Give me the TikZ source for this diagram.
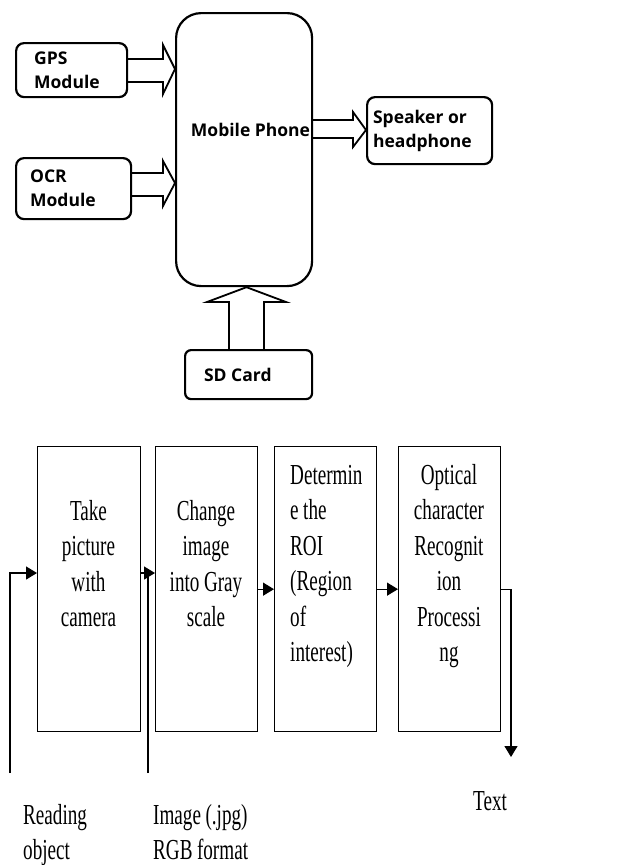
\documentclass[tikz,border=0pt]{standalone}
\usepackage{fontspec}
\newfontfamily\myosans{Open Sans}
\newfontfamily\mycserif[FakeStretch=0.66]{Liberation Serif}
\newcommand\mytopfont{\myosans\bfseries\fontsize{17.5}{24}\selectfont}
\newcommand\myflowfont{\mycserif\fontsize{29}{35.5}\selectfont\spaceskip=4.5pt plus 1pt\xspaceskip=4.5pt plus 1pt}
\usetikzlibrary{arrows.meta}
\begin{document}
\begin{tikzpicture}[x=1pt,y=-1pt,
  topbox/.style={draw, line width=2.2pt, rounded corners=8pt, anchor=north west, align=flush left, font=\mytopfont, inner ysep=0pt},
  hollow/.style={draw, line width=1.8pt, line join=miter},
  fbox/.style={draw, line width=1.3pt, anchor=north west, minimum height=285pt, inner sep=0pt},
  ftext/.style={font=\myflowfont, inner sep=0pt, align=flush center, text width=100pt, anchor=base},
  flabel/.style={font=\myflowfont, inner sep=0pt, align=flush left, text width=120pt, anchor=base west},
  arr/.style={line width=1.3pt, -{Triangle[length=11pt,width=13pt]}}]
\useasboundingbox (0,0) rectangle (637,865);
\fill[white] (0,0) rectangle (637,865);

% ---- top block diagram ----
\node[draw, line width=2.2pt, rounded corners=25pt, minimum width=136pt, minimum height=273pt, anchor=north west] (phone) at (175,12) {};
\node[font=\mytopfont, anchor=base, inner sep=0pt] (phonetext) at (250.5,136) {Mobile Phone};

\node[topbox, minimum width=111pt, minimum height=54pt, text width=75pt, inner xsep=18pt] (gps) at (15,42) {GPS\\Module};
\node[topbox, minimum width=115pt, minimum height=61pt, text width=87pt, inner xsep=14pt] (ocr) at (15,157) {OCR\\Module};
\node[topbox, minimum width=125pt, minimum height=67pt, text width=113pt, inner xsep=6pt] (spk) at (366,96) {Speaker or\\headphone};
\node[topbox, rounded corners=6pt, minimum width=127pt, minimum height=49pt, text width=89pt, inner xsep=19pt] (sd) at (184,349) {SD Card};

% hollow arrows
\coordinate (gA) at (163,59); \coordinate (gB) at (163,45); \coordinate (gT) at (175,69);
\coordinate (gC) at (163,94); \coordinate (gD) at (163,82);
\draw[hollow] (gps.east |- gA) -- (gA) -- (gB) -- (phone.west |- gT) -- (gC) -- (gD) -- (gps.east |- gD);

\coordinate (oA) at (163,173); \coordinate (oB) at (163,161); \coordinate (oT) at (175,183);
\coordinate (oC) at (163,206); \coordinate (oD) at (163,196);
\draw[hollow] (ocr.east |- oA) -- (oA) -- (oB) -- (phone.west |- oT) -- (oC) -- (oD) -- (ocr.east |- oD);

\coordinate (sA) at (353,120); \coordinate (sB) at (353,112); \coordinate (sT) at (366,130);
\coordinate (sC) at (353,147); \coordinate (sD) at (353,138);
\draw[hollow] (phone.east |- sA) -- (sA) -- (sB) -- (spk.west |- sT) -- (sC) -- (sD) -- (phone.east |- sD);

\coordinate (dA) at (229,302); \coordinate (dB) at (207,302); \coordinate (dT) at (246.5,286);
\coordinate (dC) at (286,302); \coordinate (dD) at (264,302);
\draw[hollow] (dA |- sd.north) -- (dA) -- (dB) -- (dT |- phone.south) -- (dC) -- (dD) -- (dD |- sd.north);

% ---- bottom flow ----
\node[fbox, minimum width=103pt] (b1) at (37,446) {};
\node[fbox, minimum width=102pt] (b2) at (155,446) {};
\node[fbox, minimum width=102pt] (b3) at (274,446) {};
\node[fbox, minimum width=102pt] (b4) at (398,446) {};

\node[ftext] (t1) at (88.5,520) {Take\\picture\\with\\camera};
\node[ftext] (t2) at (206,520) {Change\\image\\into Gray\\scale};
\node[ftext, align=flush left, anchor=base west] (t3) at (290,484) {Determin\\e the\\ROI\\(Region\\of\\interest)};
\node[ftext] (t4) at (449,484) {Optical\\character\\Recognit\\ion\\Processi\\ng};

\coordinate (r0) at (10,773); \coordinate (r1) at (10,573);
\draw[arr] (r0) -- (r1) -- (b1.west |- r1);
\coordinate (i0) at (148,773); \coordinate (i1) at (148,573);
\draw[arr] (b1.east |- i1) -- (b2.west |- i1);
\draw[line width=1.3pt] (i0) -- (i1);
\draw[arr] (b2.east) -- (b3.west);
\draw[arr] (b3.east) -- (b4.west);
\coordinate (tout) at (511,757);
\draw[arr] (b4.east) -| (tout);

\node[flabel] (read) at (23,824) {Reading\\object};
\node[flabel] (img) at (153,824) {Image (.jpg)\\RGB format};
\node[flabel] (txt) at (473,810) {Text};
\end{tikzpicture}
\end{document}
